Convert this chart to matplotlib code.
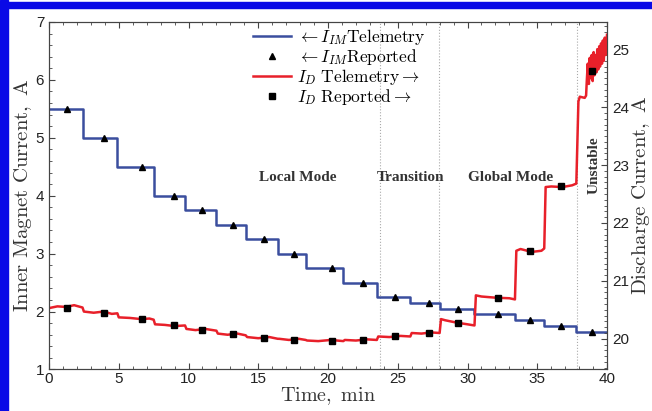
import numpy as np
import matplotlib.pyplot as plt
from matplotlib.patches import Rectangle
from matplotlib.lines import Line2D
from matplotlib.ticker import MultipleLocator

plt.rcParams['mathtext.fontset'] = 'cm'
plt.rcParams['font.family'] = 'Liberation Sans'

# Inner magnet current telemetry (step levels) and the times the level changes
im_change_t = [2.4, 4.9, 7.5, 9.75, 12.0, 14.1, 16.4, 18.4, 21.1, 23.5,
               25.9, 28.0, 30.5, 33.4, 35.5, 37.8]
im_levels = [5.5, 5.0, 4.5, 4.0, 3.75, 3.5, 3.25, 3.0, 2.75, 2.5,
             2.25, 2.15, 2.05, 1.95, 1.86, 1.75, 1.64]

# Reported points (one per setpoint)
rep_t = [1.27, 3.94, 6.64, 8.99, 10.99, 13.17, 15.39, 17.59, 20.28, 22.48,
         24.8, 27.26, 29.34, 32.16, 34.5, 36.68, 38.95]
im_rep = [5.5, 5.0, 4.5, 4.0, 3.75, 3.5, 3.25, 3.0, 2.75, 2.5,
          2.25, 2.15, 2.05, 1.95, 1.86, 1.75, 1.64]
id_rep = [20.53, 20.44, 20.34, 20.23, 20.16, 20.08, 20.01, 19.98, 19.97, 19.98,
          20.04, 20.10, 20.27, 20.70, 21.52, 22.64, 24.63]

# Discharge current telemetry
id_t = [0.0, 0.6, 1.2, 1.8, 2.4,
        2.5, 3.2, 3.9, 4.5, 4.9,
        5.0, 5.8, 6.6, 7.2, 7.5,
        7.6, 8.3, 9.0, 9.75,
        9.85, 10.5, 11.2, 12.0,
        12.1, 12.8, 13.5, 14.1,
        14.2, 15.0, 15.8, 16.4,
        16.5, 17.2, 17.9, 18.4,
        18.5, 19.3, 20.2, 21.1,
        21.2, 22.0, 22.8, 23.5,
        23.6, 24.4, 25.2, 25.9,
        26.0, 26.7, 27.4, 28.0,
        28.1, 28.4, 29.2, 30.0, 30.5,
        30.6, 31.0, 32.0, 33.0, 33.4,
        33.5, 33.8, 34.6, 35.3, 35.5,
        35.6, 36.0, 36.8, 37.5, 37.8,
        37.95, 38.05, 38.4, 38.5,
        38.55, 38.62, 38.7, 38.76, 38.83, 38.9, 38.97, 39.04, 39.1, 39.17,
        39.24, 39.3, 39.37, 39.44, 39.5, 39.57, 39.64, 39.7, 39.77, 39.84,
        39.9, 40.0]
id_v = [20.53, 20.56, 20.55, 20.58, 20.54,
        20.47, 20.45, 20.47, 20.43, 20.44,
        20.37, 20.36, 20.34, 20.35, 20.33,
        20.25, 20.24, 20.22, 20.23,
        20.17, 20.15, 20.17, 20.14,
        20.09, 20.07, 20.09, 20.06,
        20.03, 20.01, 20.03, 20.00,
        20.00, 19.98, 20.00, 19.98,
        19.97, 19.96, 19.98, 19.96,
        19.98, 19.97, 19.99, 19.98,
        20.04, 20.03, 20.05, 20.04,
        20.10, 20.09, 20.11, 20.10,
        20.34, 20.32, 20.28, 20.25, 20.23,
        20.75, 20.73, 20.71, 20.70, 20.68,
        21.52, 21.55, 21.50, 21.52, 21.56,
        22.62, 22.63, 22.62, 22.65, 22.68,
        24.10, 24.18, 24.16, 24.20,
        24.45, 24.75, 24.40, 24.85, 24.50, 24.90, 24.45, 24.95, 24.55, 24.90,
        24.60, 25.00, 24.65, 25.05, 24.70, 25.10, 24.75, 25.15, 24.80, 25.20,
        24.90, 25.25]

# Operating regime boundaries and labels
regime_bounds = [23.7, 27.95, 37.85]
regime_names = ['Local Mode', 'Transition', 'Global Mode']
regime_x = [17.85, 25.9, 33.05]

blue = '#3b4e9e'
red = '#e8202a'

fig = plt.figure(figsize=(6.52, 4.11), dpi=100)
ax = fig.add_axes([0.0752, 0.101, 0.8558, 0.8455])
ax2 = ax.twinx()

# blue L frame of the original picture
fig.patches.append(Rectangle((0, 0), 8 / 652, 1, transform=fig.transFigure,
                             color='#0a0ae6', zorder=0))
fig.patches.append(Rectangle((0, 1 - 8 / 411), 1, 6 / 411, transform=fig.transFigure,
                             color='#0a0ae6', zorder=0))

# blue step line built from the change times
st = [0.0]
for t in im_change_t:
    st += [t, t]
st.append(40.0)
sv = []
for v in im_levels:
    sv += [v, v]
ax.plot(st, sv, color=blue, lw=1.8, zorder=2)
ax.plot(rep_t, im_rep, '^', color='black', ms=5, zorder=4)

for b in regime_bounds:
    ax.axvline(b, color='#aaaaaa', lw=0.8, ls=':', zorder=1)

ax2.plot(id_t, id_v, color=red, lw=1.8, zorder=2)
ax2.plot(rep_t, id_rep, 's', color='black', ms=4.5, zorder=4)

for name, x in zip(regime_names, regime_x):
    ax.text(x, 4.32, name, ha='center', va='center', family='Liberation Serif',
            fontweight='bold', fontsize=11, color='#333333')
ax.text(39.1, 4.53, 'Unstable', rotation=90, ha='center', va='center',
        family='Liberation Serif', fontweight='bold', fontsize=11, color='#333333')

ax.set_xlim(0, 40)
ax.set_ylim(1, 7)
ax2.set_ylim(19.47, 25.47)

ax.xaxis.set_major_locator(MultipleLocator(5))
ax.xaxis.set_minor_locator(MultipleLocator(1))
ax.yaxis.set_major_locator(MultipleLocator(1))
ax.yaxis.set_minor_locator(MultipleLocator(0.2))
ax2.yaxis.set_major_locator(MultipleLocator(1))
ax2.yaxis.set_minor_locator(MultipleLocator(0.1))

ax.tick_params(which='both', direction='in', top=True, right=False,
               labelsize=11, labelcolor='#222222', color='#444444')
ax.tick_params(which='major', length=4)
ax.tick_params(which='minor', length=2)
ax.tick_params(axis='x', pad=2)
ax2.tick_params(which='both', direction='in', labelsize=11,
                labelcolor='#222222', color='#444444')
ax2.tick_params(which='major', length=4)
ax2.tick_params(which='minor', length=2)
for a in (ax, ax2):
    for s in a.spines.values():
        s.set_color('#444444')

ax.set_xlabel(r'$\mathrm{Time,\ min}$', fontsize=14.5, labelpad=-1, color='#333333')
ax.set_ylabel(r'$\mathrm{Inner\ Magnet\ Current,\ A}$', fontsize=15, labelpad=1,
              color='#333333')
ax2.set_ylabel(r'$\mathrm{Discharge\ Current,\ A}$', fontsize=15, labelpad=1,
               color='#333333')

handles = [Line2D([], [], color=blue, lw=1.8),
           Line2D([], [], marker='^', color='black', ls='none', ms=5),
           Line2D([], [], color=red, lw=1.8),
           Line2D([], [], marker='s', color='black', ls='none', ms=4.5)]
labels = [r'$\leftarrow I_{IM}\mathrm{Telemetry}$',
          r'$\leftarrow I_{IM}\mathrm{Reported}$',
          r'$I_D\ \mathrm{Telemetry} \rightarrow$',
          r'$I_D\ \mathrm{Reported} \rightarrow$']
ax2.legend(handles, labels, loc='upper center', bbox_to_anchor=(0.52, 1.02),
           frameon=False, fontsize=12.5, handlelength=2.2, handletextpad=0.3,
           labelspacing=0.0, borderpad=0.2)

fig.savefig('out.png', dpi=100)
